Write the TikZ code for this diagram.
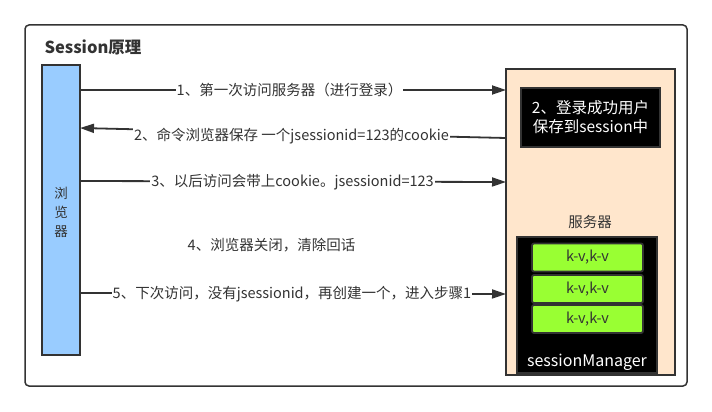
\documentclass[tikz,border=0pt]{standalone}
\usepackage{fontspec}
\setmainfont{Noto Sans CJK SC}
\usetikzlibrary{arrows.meta,positioning}

\definecolor{edge}{HTML}{333333}
\definecolor{browserblue}{HTML}{99CCFF}
\definecolor{serverbg}{HTML}{FFE6CC}
\definecolor{kvgreen}{HTML}{99FF33}

\tikzset{
  box/.style={draw=edge,line width=1.8pt,inner sep=0pt},
  msg/.style={draw=edge,line width=1.8pt,-{Triangle[length=14pt,width=9pt]}},
  lbl/.style={fill=white,inner sep=1pt,text=edge,font=\fontsize{14.5}{16}\selectfont},
  kvbox/.style={box,fill=kvgreen,rounded corners=2pt,minimum width=111pt,
    minimum height=28pt,text=edge,font=\fontsize{14.5}{16}\selectfont}
}

\begin{document}
\begin{tikzpicture}[x=1pt,y=-1pt]
\useasboundingbox (0,0) rectangle (712,412);

% outer frame and title
\draw[edge,line width=1.5pt,rounded corners=4pt] (25,25) rectangle (687,386);
\node[anchor=west,text=edge,font=\fontsize{16.5}{18}\selectfont\bfseries] (title) at (41,47) {Session原理};

% browser
\node[box,fill=browserblue,minimum width=38pt,minimum height=290pt] (browser) at (61,210) {};
\node[text=edge,align=center,font=\fontsize{13.5}{19}\selectfont] (browsertxt) at (61,212) {浏\\览\\器};

% server
\node[box,fill=serverbg,minimum width=169pt,minimum height=306pt] (server) at (590.5,222) {};
\node[box,fill=black,minimum width=139pt,minimum height=59pt,text=white,align=center,
  font=\fontsize{15.5}{19}\selectfont] (login) at (590.5,117.5) {2、登录成功用户\\保存到session中};
\node[text=edge,font=\fontsize{14.5}{16}\selectfont] (servertxt) at (590,222) {服务器};
\node[box,fill=black,minimum width=140pt,minimum height=136pt] (manager) at (587,305) {};
\node[kvbox] (kv1) at (587.5,257.5) {k-v,k-v};
\node[kvbox] (kv2) at (587.5,289) {k-v,k-v};
\node[kvbox] (kv3) at (587.5,319) {k-v,k-v};
\node[text=white,font=\fontsize{16}{18}\selectfont] (managertxt) at (587,362) {sessionManager};

% messages
\coordinate (b1) at (80,90);   \coordinate (s1) at (506,90);
\coordinate (s2) at (506,138); \coordinate (b2) at (80,128);
\coordinate (b3) at (80,181);  \coordinate (s3) at (506,182);
\coordinate (b5) at (80,293);  \coordinate (s5) at (506,294);

\draw[msg] (b1) -- (s1);
\node[lbl] (m1) at (289.5,90) {1、第一次访问服务器（进行登录）};
\draw[msg] (s2) -- (b2);
\node[lbl] (m2) at (291.5,136) {2、命令浏览器保存 一个jsessionid=123的cookie};
\draw[msg] (b3) -- (s3);
\node[lbl] (m3) at (292.5,182) {3、以后访问会带上cookie。jsessionid=123};
\node[lbl] (m4) at (271.5,245) {4、浏览器关闭，清除回话};
\draw[msg] (b5) -- (s5);
\node[lbl] (m5) at (292,294) {5、下次访问，没有jsessionid，再创建一个，进入步骤1};

\end{tikzpicture}
\end{document}
